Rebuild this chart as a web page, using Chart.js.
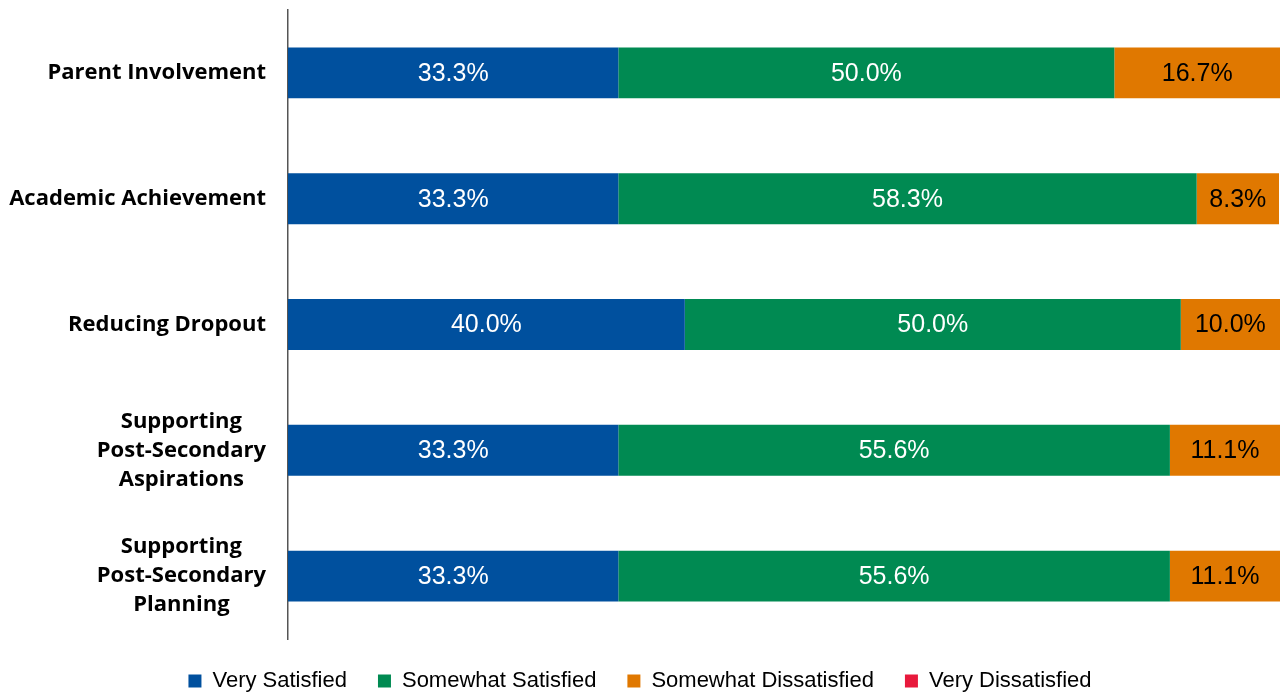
<!DOCTYPE html>
<html>
<head>
<meta charset="utf-8">
<script src="https://cdn.jsdelivr.net/npm/chart.js@4"></script>
<style>
html,body{margin:0;padding:0;background:#fff;}
#wrap{width:1284px;height:696px;position:relative;}
</style>
</head>
<body>
<div id="wrap"><canvas id="c" width="1284" height="696"></canvas></div>
<script>
const categories = [
  ["Parent Involvement"],
  ["Academic Achievement"],
  ["Reducing Dropout"],
  ["Supporting", "Post-Secondary", "Aspirations"],
  ["Supporting", "Post-Secondary", "Planning"]
];
const verySatisfied = [33.3, 33.3, 40.0, 33.3, 33.3];
const somewhatSatisfied = [50.0, 58.3, 50.0, 55.6, 55.6];
const somewhatDissatisfied = [16.7, 8.3, 10.0, 11.1, 11.1];
const veryDissatisfied = [0, 0, 0, 0, 0];
const seriesNames = ["Very Satisfied", "Somewhat Satisfied", "Somewhat Dissatisfied", "Very Dissatisfied"];
const seriesColors = ["#00509E", "#008A52", "#E07800", "#E8193C"];
const labelColors = ["#ffffff", "#ffffff", "#000000", "#000000"];

const Y_FONT = {family: "'Open Sans', sans-serif", size: 22, weight: "bold"};
const Y_LINE = 29;
const Y_PAD = 22;

const yLabelPlugin = {
  id: 'yLabels',
  afterDraw(chart) {
    const ctx = chart.ctx;
    const y = chart.scales.y;
    ctx.save();
    ctx.font = `${Y_FONT.weight} ${Y_FONT.size}px ${Y_FONT.family}`;
    ctx.fillStyle = '#000';
    ctx.textBaseline = 'middle';
    ctx.textAlign = 'center';
    const right = chart.chartArea.left - Y_PAD;
    y.ticks.forEach((t, i) => {
      const lines = categories[i];
      const py = y.getPixelForTick(i);
      const maxW = Math.max(...lines.map(l => ctx.measureText(l).width));
      const cx = right - maxW / 2;
      const start = py - (lines.length - 1) * Y_LINE / 2;
      lines.forEach((l, k) => ctx.fillText(l, cx, start + k * Y_LINE));
    });
    ctx.restore();
  }
};

const valueLabelPlugin = {
  id: 'valueLabels',
  afterDatasetsDraw(chart) {
    const ctx = chart.ctx;
    ctx.save();
    ctx.font = "25px 'Liberation Sans', Arial, sans-serif";
    ctx.textAlign = 'center';
    ctx.textBaseline = 'middle';
    chart.data.datasets.forEach((ds, di) => {
      const meta = chart.getDatasetMeta(di);
      meta.data.forEach((bar, i) => {
        const v = ds.data[i];
        if (!v) return;
        const p = bar.getProps(['x', 'y', 'base'], true);
        ctx.fillStyle = labelColors[di];
        ctx.fillText(v.toFixed(1) + '%', (p.x + p.base) / 2, p.y + 1);
      });
    });
    ctx.restore();
  }
};

const dataSets = [verySatisfied, somewhatSatisfied, somewhatDissatisfied, veryDissatisfied];

new Chart(document.getElementById('c'), {
  type: 'bar',
  data: {
    labels: categories.map(c => c.join(' ')),
    datasets: dataSets.map((d, i) => ({
      label: seriesNames[i],
      data: d,
      backgroundColor: seriesColors[i],
      borderWidth: 0,
      barPercentage: 0.81,
      categoryPercentage: 0.5
    }))
  },
  options: {
    indexAxis: 'y',
    responsive: false,
    animation: false,
    layout: {padding: {top: 10, right: 4, left: 0, bottom: -6}},
    scales: {
      x: {
        stacked: true,
        min: 0,
        max: 100,
        display: false
      },
      y: {
        stacked: true,
        grid: {display: false, drawTicks: false},
        border: {display: true, color: '#555555', width: 1.5},
        ticks: {color: 'transparent', font: {size: 1}},
        afterFit(scale) { scale.width = 288; }
      }
    },
    plugins: {
      legend: {
        position: 'bottom',
        labels: {
          boxWidth: 13,
          boxHeight: 13,
          padding: 31,
          color: '#000',
          font: {family: "'Liberation Sans', Arial, sans-serif", size: 22}
        }
      },
      tooltip: {enabled: false}
    }
  },
  plugins: [yLabelPlugin, valueLabelPlugin]
});
</script>
</body>
</html>
